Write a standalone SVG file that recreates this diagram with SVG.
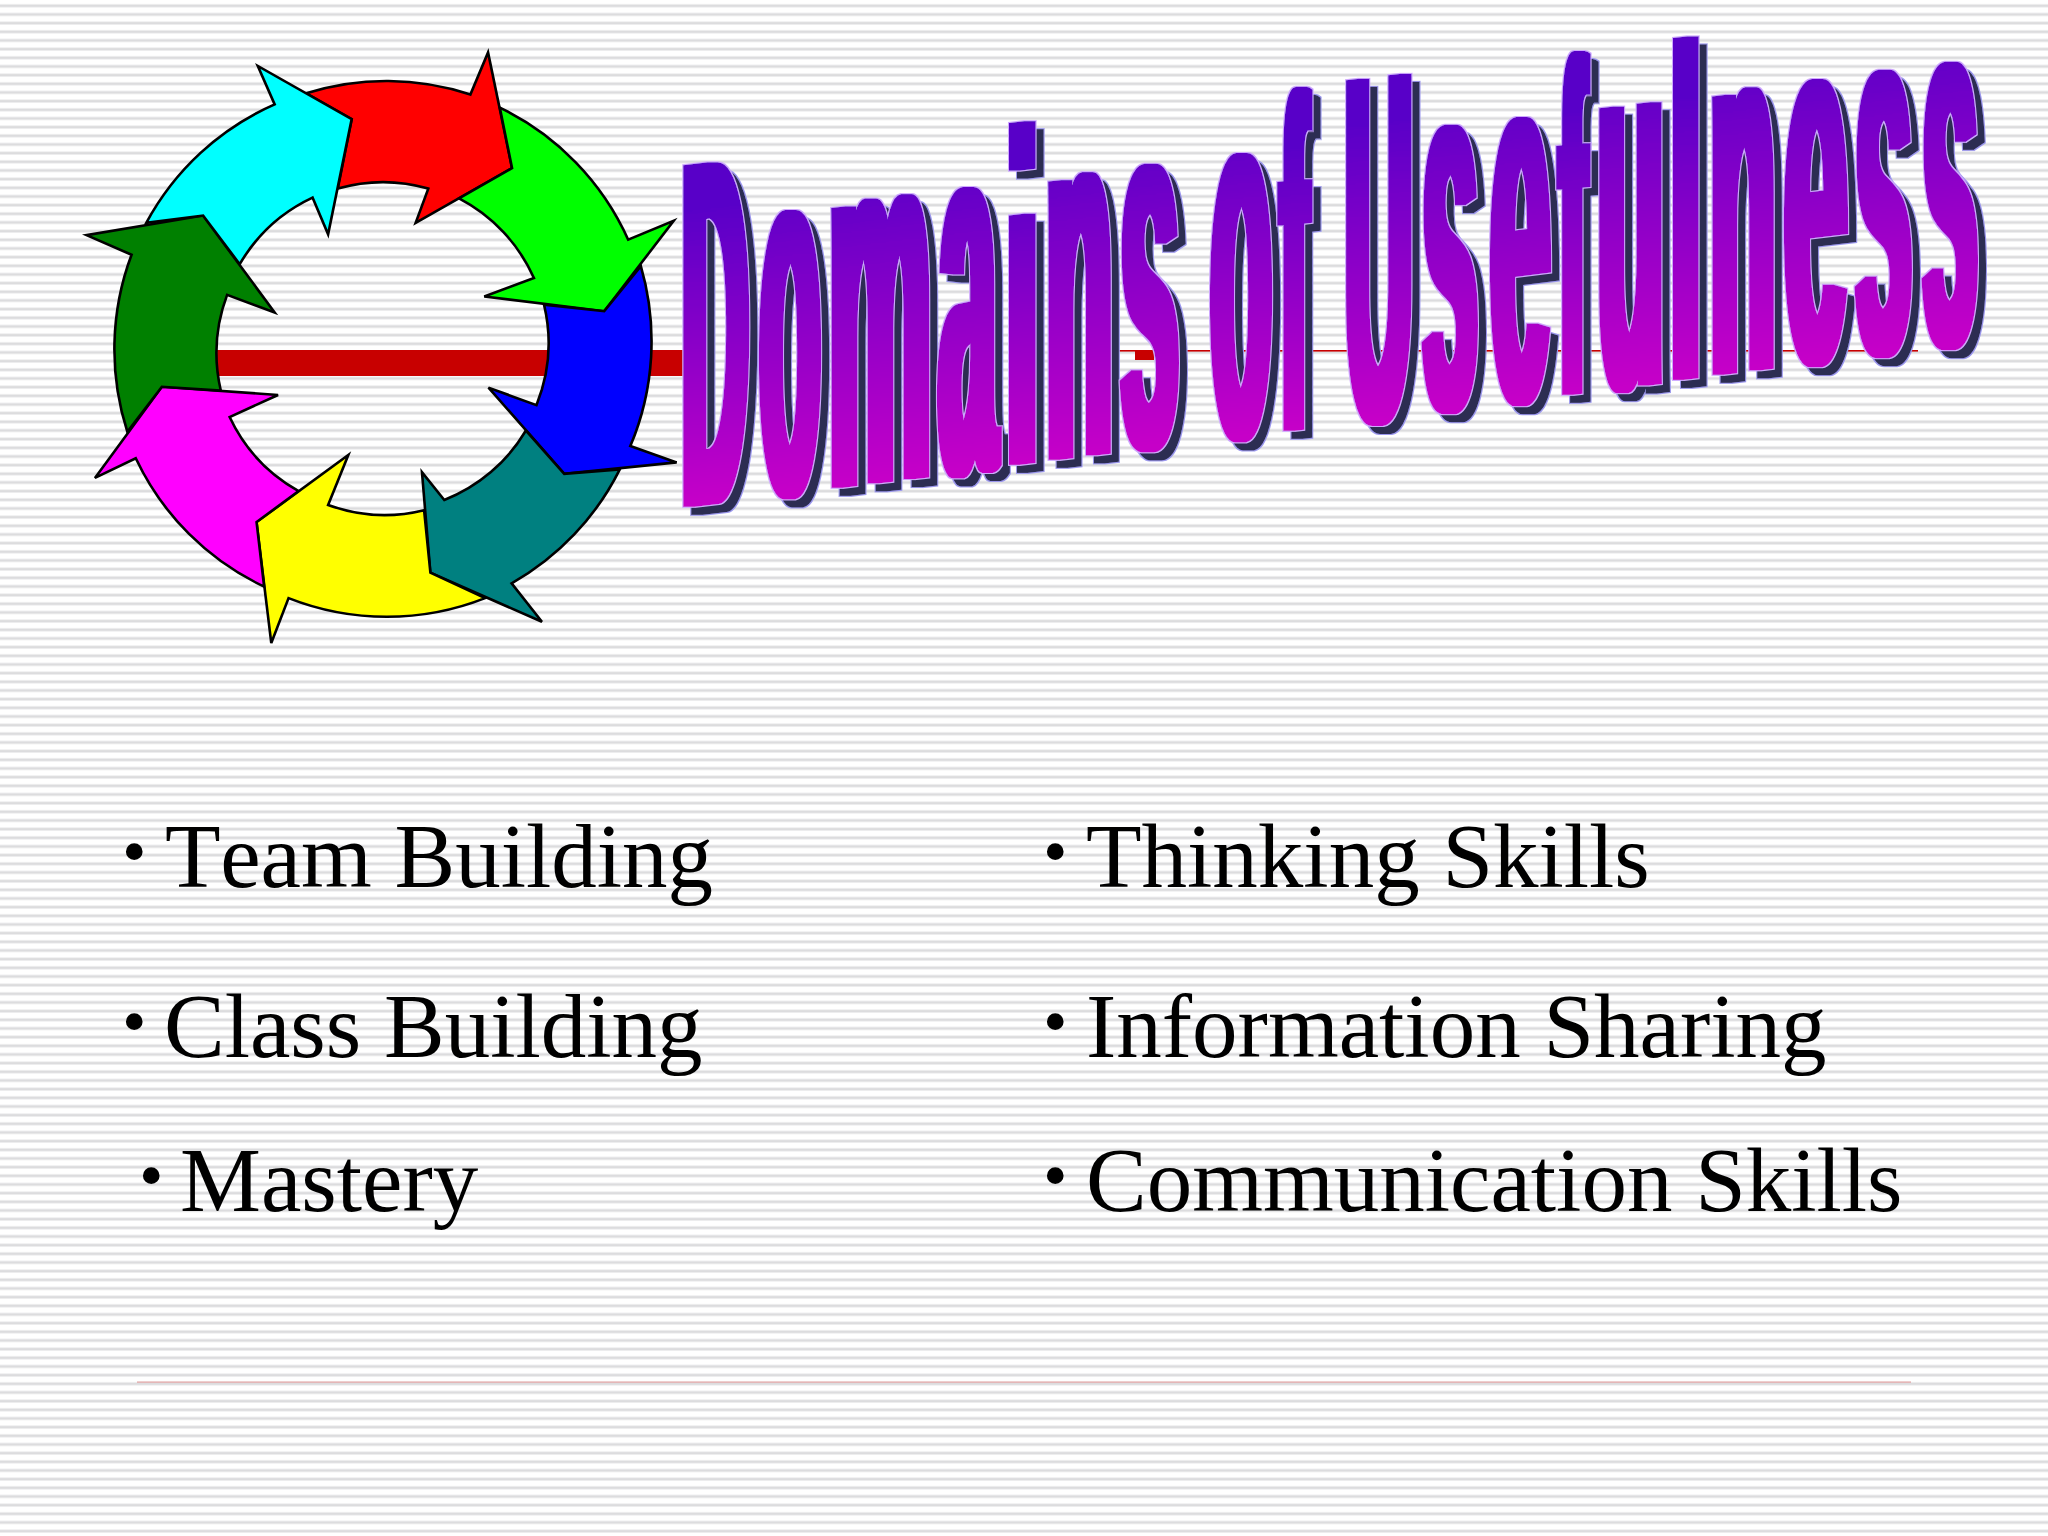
<svg xmlns="http://www.w3.org/2000/svg" xmlns:xlink="http://www.w3.org/1999/xlink" width="2048" height="1536" viewBox="0 0 2048 1536">
<style>
.arrow{stroke:#000;stroke-width:2.6;stroke-linejoin:miter;vector-effect:non-scaling-stroke}
.t{font-family:"Liberation Serif","Times New Roman",serif;font-size:91px;fill:#000}
.b{font-family:"Liberation Serif","Times New Roman",serif;font-size:70px;fill:#000}
.w{font-family:"Liberation Sans",Arial,sans-serif;font-weight:700;font-size:100px}
.l{filter:url(#ol)}
.sh{fill:#3a3258;filter:url(#shade)}
.fr{fill:url(#wa)}
</style>
<defs>
<pattern id="stripes" patternUnits="userSpaceOnUse" width="40" height="8.6667">
<rect width="40" height="8.6667" fill="#fff"/>
<rect y="4.4" width="40" height="2.8" fill="#dcdcde"/>
</pattern>
<linearGradient id="wa" gradientUnits="userSpaceOnUse" x1="0" y1="-60" x2="0" y2="0">
<stop offset="0" stop-color="#5800c8"/><stop offset="1" stop-color="#c600c8"/>
</linearGradient>
<filter id="ol" filterUnits="userSpaceOnUse" x="640" y="0" width="1400" height="560">
<feMorphology in="SourceGraphic" operator="dilate" radius="5 0" result="fat"/>
<feMorphology in="fat" operator="dilate" radius="1" result="halo"/>
<feFlood flood-color="#cfa8ff"/>
<feComposite in2="halo" operator="in" result="edge"/>
<feMerge><feMergeNode in="edge"/><feMergeNode in="fat"/></feMerge>
</filter>
<filter id="shade" filterUnits="userSpaceOnUse" x="640" y="0" width="1400" height="560" color-interpolation-filters="sRGB">
<feColorMatrix type="matrix" values=".75 0 0 0 0  0 .9 0 0 0  0 0 .93 0 0  0 0 0 1 0"/>
</filter>
<g id="letters" class="w">
<g class="l"><text transform="matrix(.916 -.11 0 4.97 682.1 507.8)">D</text></g>
<g class="l"><text transform="matrix(.981 -.12 0 5.28 760.1 497.9)">o</text></g>
<g class="l"><text transform="matrix(1.158 -.139 0 5.3 828.5 488.9)">m</text></g>
<g class="l"><text transform="matrix(1.031 -.124 0 5.3 938.9 475.7)">a</text></g>
<g class="l"><text transform="matrix(1.214 -.146 0 4.72 1005.5 466)">i</text></g>
<g class="l"><text transform="matrix(1.093 -.131 0 5.27 1045.9 460.9)">n</text></g>
<g class="l"><text transform="matrix(1.031 -.124 0 5.26 1120.9 450.6)">s</text></g>
<g class="l"><text transform="matrix(.981 -.118 0 5.28 1211.1 440.8)">o</text></g>
<g class="l"><text transform="matrix(.8 -.096 0 4.73 1280.8 432)">f</text></g>
<g class="l"><text transform="matrix(.923 -.111 0 5 1345.5 425)">U</text></g>
<g class="l"><text transform="matrix(.969 -.116 0 5.28 1423.1 412.3)">s</text></g>
<g class="l"><text transform="matrix(1.0625 -.1275 0 5.28 1490.75 404.8)">e</text></g>
<g class="l"><text transform="matrix(.771 -.093 0 4.73 1559.8 396)">f</text></g>
<g class="l"><text transform="matrix(1.093 -.131 0 5.34 1597.4 391.2)">u</text></g>
<g class="l"><text transform="matrix(1.143 -.137 0 4.72 1670 381)">l</text></g>
<g class="l"><text transform="matrix(1.072 -.129 0 5.27 1710 375.8)">n</text></g>
<g class="l"><text transform="matrix(1.125 -.135 0 5.26 1784.5 366)">e</text></g>
<g class="l"><text transform="matrix(.99 -.119 0 5.26 1856 356.4)">s</text></g>
<g class="l"><text transform="matrix(.969 -.116 0 5.26 1923.1 348.3)">s</text></g>
</g>
</defs>
<rect id="background" width="2048" height="1536" fill="url(#stripes)"/>
<g id="rules">
<rect x="216" y="350" width="470" height="26" fill="#c80000"/>
<rect x="1135" y="350" width="19" height="10" fill="#c80000"/>
<rect x="1119" y="350" width="799" height="1.6" fill="#c80000"/>
<rect x="137" y="1381.5" width="1774" height="1.2" fill="#e0a0a0"/>
</g>
<g id="ring" transform="translate(60 30) scale(.4209 .4087)">
<path id="arrow-red" class="arrow" fill="#f00" d="M585 155A637 657 0 0 1 975 158L1017 55L1074 338L845 472L875 388A392 405 0 0 0 660 388L693 218Z"/>
<path id="arrow-green" class="arrow" fill="#0f0" d="M1045 190A637 657 0 0 1 1350 513L1458 467L1293 688L1008 652L1126 607A392 405 0 0 0 948 412L1074 338Z"/>
<path id="arrow-blue" class="arrow" fill="#00f" d="M1380 578A637 657 0 0 1 1355 1018L1465 1058L1198 1086L1018 875L1132 918A392 405 0 0 0 1150 672L1293 688Z"/>
<path id="arrow-teal" class="arrow" fill="#008080" d="M1330 1075A637 657 0 0 1 1073 1354L1145 1448L880 1328L860 1082L913 1150A392 405 0 0 0 1107 980L1198 1086Z"/>
<path id="arrow-yellow" class="arrow" fill="#ff0" d="M1010 1390A637 657 0 0 1 543 1390L502 1500L467 1204L685 1040L637 1162A392 405 0 0 0 865 1175L880 1328Z"/>
<path id="arrow-magenta" class="arrow" fill="#f0f" d="M485 1362A637 657 0 0 1 180 1048L83 1096L242 873L518 893L403 947A392 405 0 0 0 567 1128L467 1204Z"/>
<path id="arrow-darkgreen" class="arrow" fill="#008000" d="M160 983A637 657 0 0 1 170 550L63 502L340 454L510 691L397 648A392 405 0 0 0 382 882L242 873Z"/>
<path id="arrow-cyan" class="arrow" fill="#0ff" d="M205 472A637 657 0 0 1 510 182L470 88L693 218L637 500L600 410A392 405 0 0 0 427 573L340 454Z"/>
</g>
<g id="title">
<use href="#letters" class="sh" transform="translate(8 8)"/>
<use href="#letters" class="fr"/>
</g>
<g id="list-left">
<text class="b" x="122" y="875">•</text><text class="t" x="165" y="887">T<tspan dx="6">eam Building</tspan></text>
<text class="b" x="122" y="1045">•</text><text class="t" x="164" y="1057">Class Building</text>
<text class="b" x="139" y="1199">•</text><text class="t" x="180" y="1211">Mastery</text>
</g>
<g id="list-right">
<text class="b" x="1043" y="875">•</text><text class="t" x="1086" y="887">Thinking Skills</text>
<text class="b" x="1043" y="1045">•</text><text class="t" x="1086" y="1057">Information Sharing</text>
<text class="b" x="1043" y="1199">•</text><text class="t" x="1086" y="1211">Communication Skills</text>
</g>
</svg>
